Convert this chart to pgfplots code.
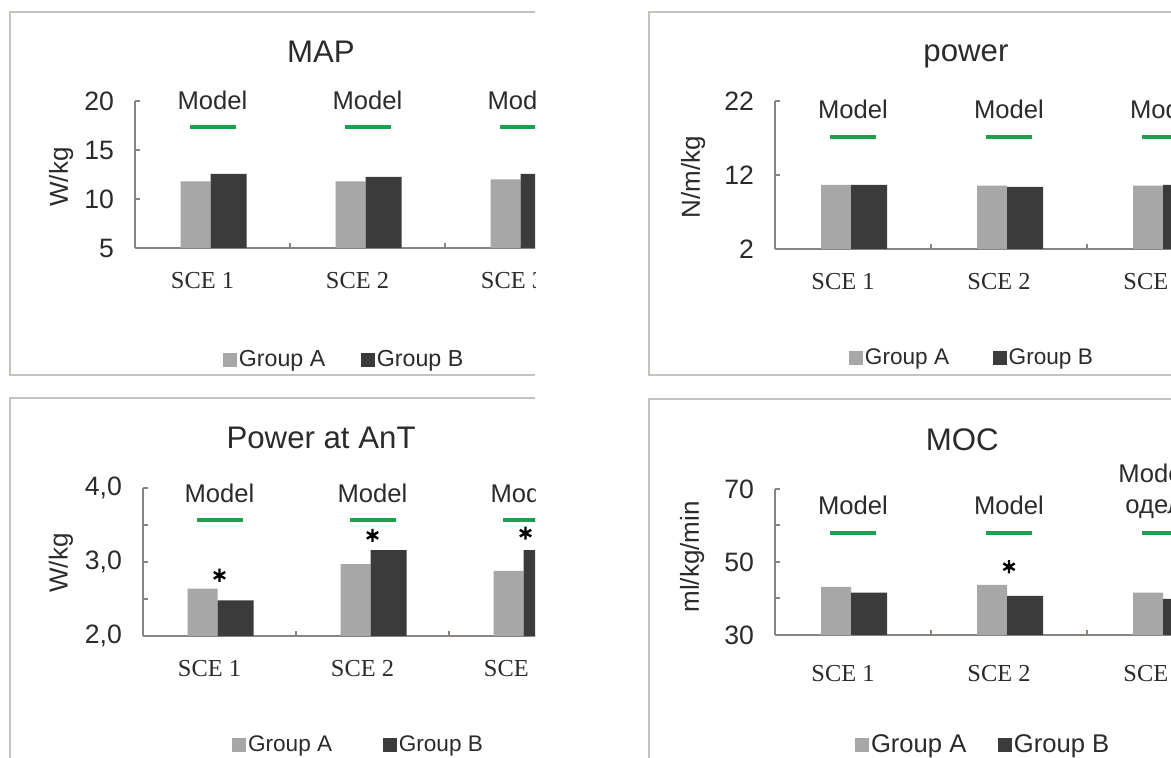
\documentclass[border=0pt]{standalone}
\usepackage{fontspec}
\setmainfont{Liberation Sans}
\newfontfamily\timesfont{Liberation Serif}
\usepackage{pgfplots}
\pgfplotsset{compat=1.18}
\definecolor{grA}{HTML}{A7A7A7}
\definecolor{grB}{HTML}{3B3B3B}
\definecolor{mgreen}{HTML}{1FA050}
\definecolor{axgray}{HTML}{8A8580}
\definecolor{framegray}{HTML}{C6C2BE}
\definecolor{txt}{HTML}{2B2B2B}
\tikzset{modeltxt/.style={font=\fontsize{12.8}{15}\selectfont, text=txt, anchor=base}}
\pgfplotsset{
  panel/.style={
    scale only axis, anchor=south west,
    axis x line*=bottom, axis y line*=left,
    axis line style={draw=axgray, line width=1pt, -},
    x axis line style={-}, y axis line style={-},
    xmin=0.5, xmax=3.5,
    xtick={1.5,2.5}, xticklabels={},
    extra x ticks={1,2,3},
    extra x tick labels={SCE 1,SCE 2,SCE 3},
    extra x tick style={major tick length=0pt},
    tick align=inside,
    major tick length=2.5pt, minor tick length=2.5pt,
    tick style={draw=axgray, line width=1pt},
    xticklabel style={font=\timesfont\fontsize{12.2}{14}\selectfont, text=txt, xshift=-5pt, yshift=-8.5pt},
    yticklabel style={font=\fontsize{13.3}{15}\selectfont, text=txt, xshift=-7pt},
    ylabel style={font=\fontsize{13}{15}\selectfont, text=txt, anchor=center},
    title style={font=\fontsize{15.6}{18}\selectfont, text=txt, anchor=base, yshift=-6pt},
    clip mode=individual,
    legend style={draw=none, fill=none, inner sep=0pt, legend columns=2, text=txt, nodes={inner sep=1pt}, anchor=west},
    legend cell align=left,
  },
  barA/.style={ybar, bar width=15pt, bar shift=-8.5pt, fill=grA, draw=none,
    legend image code/.code={\fill[grA] (0pt,-3.4pt) rectangle (6.8pt,3.4pt);}},
  barB/.style={ybar, bar width=18pt, bar shift=8pt, fill=grB, draw=none,
    legend image code/.code={\fill[grB] (0pt,-3.4pt) rectangle (6.8pt,3.4pt);}},
  model/.style={only marks, mark=-, mark size=11.5pt, mark options={draw=mgreen, line width=2pt}, forget plot},
  star/.style={only marks, mark=asterisk, mark size=3.3pt, mark options={draw=black, line width=1.2pt}, forget plot},
}
\begin{document}
\begin{tikzpicture}
\useasboundingbox (0,0) rectangle (585.5pt,379pt);
\fill[white] (0,0) rectangle (585.5pt,379pt);
\clip (0,0) rectangle (585.5pt,379pt);

% ---------- MAP (top left)
\begin{scope}
\clip (0,189pt) rectangle (267.5pt,379pt);
\draw[framegray, line width=0.8pt] (5pt,191.5pt) rectangle (290pt,373pt);
\begin{axis}[panel, at={(67.5pt,255pt)}, width=232.5pt, height=73.5pt,
  ymin=5, ymax=20, ytick={5,10,15,20}, yticklabels={5,10,15,20},
  title={MAP}, title style={at={(axis description cs:0.4,1.265)}},
  ylabel={W/kg}, ylabel style={at={(axis description cs:-0.159,0.483)}},
  legend style={at={(axis description cs:0.189,-0.762)}, font=\fontsize{11.6}{14}\selectfont,
    /tikz/every even column/.append style={column sep=17pt}}]
\addplot[barA] coordinates {(1,11.8) (2,11.8) (3,12.0)}; \addlegendentry{Group A}
\addplot[barB] coordinates {(1,12.55) (2,12.25) (3,12.55)}; \addlegendentry{Group B}
\addplot[model] coordinates {(1,17.3) (2,17.3) (3,17.3)};
\node[modeltxt] at (axis cs:1,19.08) {Model};
\node[modeltxt] at (axis cs:2,19.08) {Model};
\node[modeltxt] at (axis cs:3,19.08) {Model};
\end{axis}
\end{scope}

% ---------- power (top right)
\draw[framegray, line width=0.8pt] (324.5pt,191.5pt) rectangle (620pt,373pt);
\begin{axis}[panel, at={(387.5pt,254.5pt)}, width=234pt, height=74pt,
  ymin=2, ymax=22, ytick={2,12,22}, yticklabels={2,12,22},
  title={power}, title style={at={(axis description cs:0.408,1.264)}},
  ylabel={N/m/kg}, ylabel style={at={(axis description cs:-0.175,0.486)}},
  legend style={at={(axis description cs:0.158,-0.736)}, font=\fontsize{11.3}{14}\selectfont,
    /tikz/every even column/.append style={column sep=21pt}}]
\addplot[barA] coordinates {(1,10.65) (2,10.55) (3,10.55)}; \addlegendentry{Group A}
\addplot[barB] coordinates {(1,10.65) (2,10.4) (3,10.65)}; \addlegendentry{Group B}
\addplot[model] coordinates {(1,17.2) (2,17.2) (3,17.2)};
\node[modeltxt] at (axis cs:1,19.7) {Model};
\node[modeltxt] at (axis cs:2,19.7) {Model};
\node[modeltxt] at (axis cs:3,19.7) {Model};
\end{axis}

% ---------- Power at AnT (bottom left)
\begin{scope}
\clip (0,0) rectangle (267.5pt,189pt);
\draw[framegray, line width=0.8pt] (5pt,-10pt) rectangle (290pt,180pt);
\begin{axis}[panel, at={(71.5pt,61pt)}, width=229.5pt, height=74pt,
  ymin=2, ymax=4, ytick={2,3,4}, yticklabels={2{,}0,3{,}0,4{,}0}, minor ytick={2.5,3.5},
  title={Power at AnT}, title style={at={(axis description cs:0.388,1.27)}},
  ylabel={W/kg}, ylabel style={at={(axis description cs:-0.179,0.493)}},
  legend style={at={(axis description cs:0.194,-0.736)}, font=\fontsize{11.3}{14}\selectfont,
    /tikz/every even column/.append style={column sep=24.5pt}}]
\addplot[barA] coordinates {(1,2.64) (2,2.97) (3,2.88)}; \addlegendentry{Group A}
\addplot[barB] coordinates {(1,2.48) (2,3.16) (3,3.16)}; \addlegendentry{Group B}
\addplot[model] coordinates {(1,3.57) (2,3.57) (3,3.57)};
\addplot[star] coordinates {(1,2.82) (2,3.36) (3,3.39)};
\node[modeltxt] at (axis cs:1,3.81) {Model};
\node[modeltxt] at (axis cs:2,3.81) {Model};
\node[modeltxt] at (axis cs:3,3.81) {Model};
\end{axis}
\end{scope}

% ---------- MOC (bottom right)
\draw[framegray, line width=0.8pt] (324.5pt,-10pt) rectangle (620pt,179.5pt);
\begin{axis}[panel, at={(387.5pt,61.5pt)}, width=234pt, height=73pt,
  ymin=30, ymax=70, ytick={30,50,70}, yticklabels={30,50,70}, minor ytick={40,60},
  xticklabel style={yshift=-3pt},
  title={MOC}, title style={at={(axis description cs:0.4,1.267)}},
  ylabel={ml/kg/min}, ylabel style={at={(axis description cs:-0.177,0.534)}},
  legend style={at={(axis description cs:0.171,-0.753)}, font=\fontsize{12.8}{15}\selectfont,
    /tikz/every even column/.append style={column sep=15pt}}]
\addplot[barA] coordinates {(1,43.2) (2,43.7) (3,41.6)}; \addlegendentry{Group A}
\addplot[barB] coordinates {(1,41.6) (2,40.7) (3,39.9)}; \addlegendentry{Group B}
\addplot[model] coordinates {(1,57.9) (2,57.9) (3,57.9)};
\addplot[star] coordinates {(2,48.7)};
\node[modeltxt] at (axis cs:1,62.9) {Model};
\node[modeltxt] at (axis cs:2,62.9) {Model};
\node[modeltxt, anchor=base west, inner xsep=0pt] at (axis cs:2.699,71.9) {Model};
\node[modeltxt, anchor=base west, inner xsep=0pt] at (axis cs:2.744,63.4) {одель};
\end{axis}
\end{tikzpicture}
\end{document}
